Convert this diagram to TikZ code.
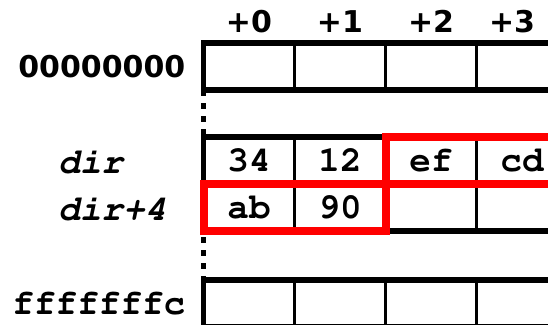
\documentclass[tikz,border=0pt]{standalone}
\usepackage{fontspec}
\newfontfamily\addrfont{DejaVu Sans}
\newcommand\memfont{\fontencoding{T1}\fontfamily{pcr}\selectfont}
\usetikzlibrary{positioning}

\begin{document}
\begin{tikzpicture}[x=1pt,y=-1pt,node distance=0pt,
      cell/.style={draw,line width=2.7pt,minimum width=91pt,minimum height=47pt,
        inner sep=0pt,outer sep=0pt,font=\memfont\bfseries\fontsize{36}{40}\selectfont},
      frame/.style={line width=5.3pt},
      dots/.style={line width=5.3pt,dash pattern=on 5.5pt off 7.5pt},
      hilite/.style={draw=red,line width=8pt},
      offs/.style={inner sep=0pt,font=\addrfont\bfseries\fontsize{30}{34}\selectfont},
      addr/.style={inner sep=0pt,font=\memfont\bfseries\fontsize{36}{40}\selectfont},
      var/.style={inner sep=0pt,font=\memfont\bfseries\itshape\fontsize{36}{40}\selectfont}]
  \clip (0,0) rectangle (548,324);
  \foreach \r/\y in {a/66.5,f/303.5}
    \foreach \c in {0,...,3}
      \node[cell] (\r\c) at (249+91*\c,\y) {};
  \node[cell] (d0) at (249,160.5) {34};
  \node[cell,right=of d0] (d1) {12};
  \node[cell,right=of d1] (d2) {ef};
  \node[cell,right=of d2] (d3) {cd};
  \node[cell,below=of d0] (e0) {ab};
  \node[cell,right=of e0] (e1) {90};
  \node[cell,right=of e1] (e2) {};
  \node[cell,right=of e2] (e3) {};
  \draw[frame] (a0.north west) rectangle (a3.south east);
  \draw[frame] (d0.north west) rectangle (e3.south east);
  \draw[frame] (f0.north west) rectangle (f3.south east);
  \draw[dots] (a0.south west) -- (d0.north west);
  \draw[dots] ([yshift=-6pt]e0.south west) -- (f0.north west);
  \draw[hilite] (d2.north west) rectangle (d3.south east);
  \draw[hilite] (e0.north west) rectangle (e1.south east);
  \node[offs,above=10pt of a0] (o0) {+0};
  \node[offs,above=10pt of a1] (o1) {+1};
  \node[offs,above=10pt of a2] (o2) {+2};
  \node[offs,above=10pt of a3,xshift=-10pt] (o3) {+3};
  \node[offs,left=18pt of a0] (la) {00000000};
  \node[addr,left=18pt of f0] (lf) {fffffffc};
  \node[var,anchor=base west] (ld) at (58,173) {dir};
  \node[var,anchor=base west] (le) at (58,220) {dir+4};
\end{tikzpicture}
\end{document}
